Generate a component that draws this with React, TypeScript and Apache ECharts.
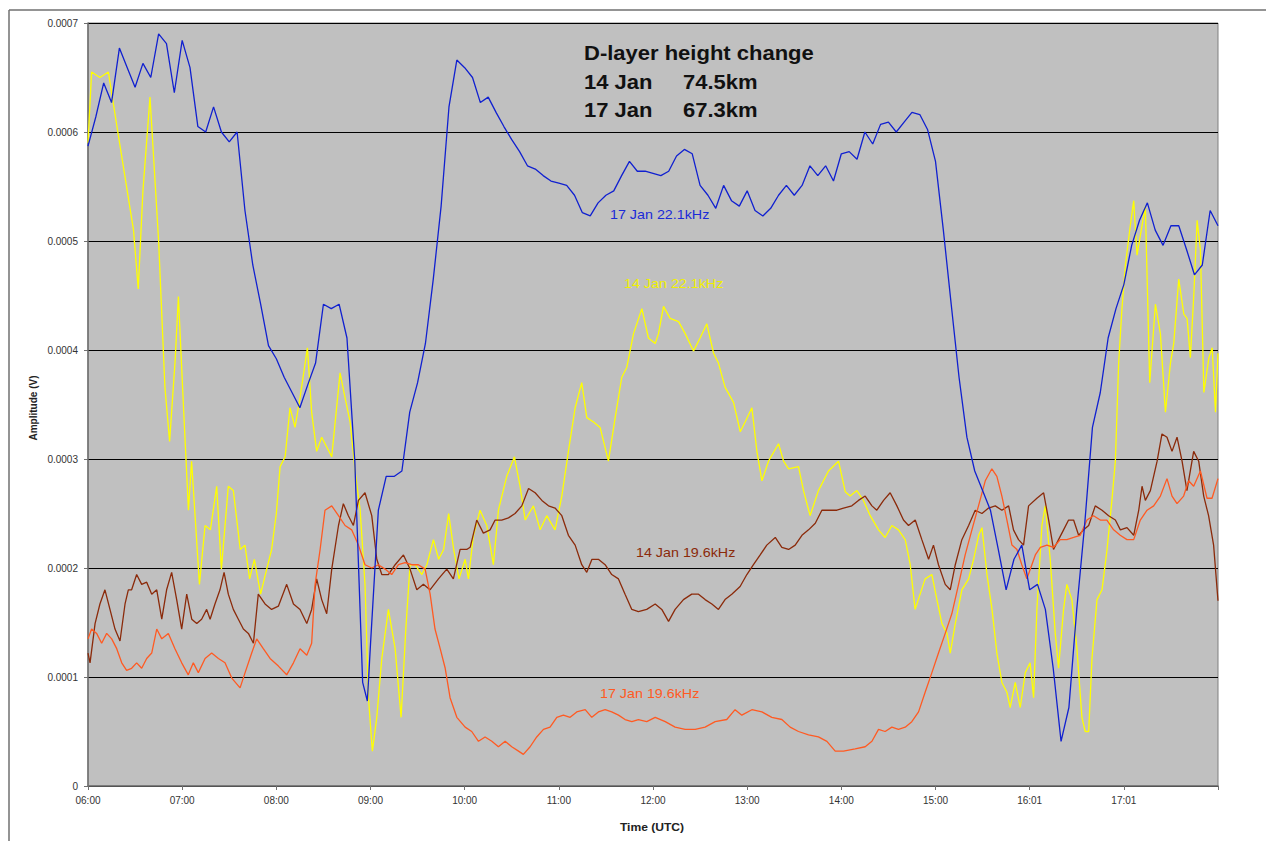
import React, { useEffect, useRef } from "react";
import * as echarts from "echarts";

// Amplitudes below are in units of 0.0001 V; time is minutes after 06:00 UTC.
const AMP_UNIT = 1e-4;

const timeTickLabels = ["06:00", "07:00", "08:00", "09:00", "10:00", "11:00", "12:00", "13:00", "14:00", "15:00", "16:01", "17:01", ""];

const seriesNames = ["14 Jan 22.1kHz", "17 Jan 22.1kHz", "14 Jan 19.6kHz", "17 Jan 19.6kHz"];

const blue17_22: [number, number][] = [
  [0, 5.87], [5, 6.14], [10, 6.45], [15, 6.27], [20, 6.77], [25, 6.59], [30, 6.41], [35, 6.63], [40, 6.5], [45, 6.9],
  [50, 6.81], [55, 6.36], [60, 6.84], [65, 6.59], [70, 6.05], [75, 6.0], [80, 6.23], [85, 6.0], [90, 5.91], [95, 6.0],
  [100, 5.28], [105, 4.78], [110, 4.42], [115, 4.04], [120, 3.92], [125, 3.75], [130, 3.61], [135, 3.47], [140, 3.68], [145, 3.88],
  [150, 4.42], [155, 4.38], [160, 4.42], [165, 4.11], [170, 2.98], [175, 0.95], [178, 0.78], [180, 1.3], [185, 2.53], [190, 2.84],
  [195, 2.84], [200, 2.89], [205, 3.43], [210, 3.7], [215, 4.06], [220, 4.65], [225, 5.32], [230, 6.23], [235, 6.66], [240, 6.59],
  [245, 6.5], [250, 6.27], [255, 6.32], [260, 6.18], [265, 6.05], [270, 5.93], [275, 5.82], [280, 5.69], [285, 5.66], [290, 5.6],
  [295, 5.55], [300, 5.53], [305, 5.51], [310, 5.42], [315, 5.26], [320, 5.23], [325, 5.35], [330, 5.42], [335, 5.46], [340, 5.6],
  [345, 5.73], [350, 5.64], [355, 5.64], [360, 5.62], [365, 5.6], [370, 5.64], [375, 5.78], [380, 5.84], [385, 5.8], [390, 5.51],
  [395, 5.42], [400, 5.3], [405, 5.51], [410, 5.37], [415, 5.32], [420, 5.46], [425, 5.28], [430, 5.23], [435, 5.3], [440, 5.42],
  [445, 5.51], [450, 5.42], [455, 5.51], [460, 5.69], [465, 5.6], [470, 5.69], [475, 5.55], [480, 5.8], [485, 5.82], [490, 5.75],
  [495, 6.0], [500, 5.89], [505, 6.07], [510, 6.09], [515, 6.0], [520, 6.09], [525, 6.18], [530, 6.16], [535, 6.02], [540, 5.73],
  [545, 5.1], [550, 4.42], [555, 3.75], [560, 3.2], [565, 2.89], [570, 2.71], [575, 2.53], [580, 2.17], [585, 1.8], [590, 2.08],
  [595, 2.21], [600, 1.8], [605, 1.85], [610, 1.62], [615, 1.08], [620, 0.41], [625, 0.72], [630, 1.62], [635, 2.39], [640, 3.29],
  [645, 3.61], [650, 4.11], [655, 4.38], [660, 4.6], [665, 4.96], [670, 5.19], [675, 5.35], [680, 5.1], [685, 4.96], [690, 5.14],
  [695, 5.14], [700, 4.92], [705, 4.69], [710, 4.78], [715, 5.28], [720, 5.14],
];

const yellow14_22: [number, number][] = [
  [0, 5.9], [2.3, 6.55], [7.6, 6.5], [13, 6.55], [19, 6.0], [29, 5.1], [32, 4.56], [35, 5.46], [39.5, 6.32], [45, 5.0],
  [49, 3.66], [52, 3.16], [55.5, 3.9], [57.6, 4.49], [61, 3.43], [64, 2.53], [66, 2.98], [68, 2.53], [71, 1.85], [74.6, 2.39],
  [78, 2.35], [82, 2.75], [85, 1.99], [89.4, 2.75], [92.6, 2.71], [97, 2.17], [100, 2.21], [103, 1.9], [106, 2.08], [110, 1.76],
  [113, 1.94], [117, 2.17], [120, 2.5], [122.4, 2.93], [125.6, 3.02], [128.7, 3.47], [131.9, 3.29], [135.1, 3.56], [139.8, 4.02], [142.5, 3.43],
  [145.7, 3.07], [148.9, 3.2], [152.1, 3.11], [155.3, 3.02], [160.6, 3.79], [163.8, 3.56], [167, 3.34], [170.2, 2.89], [173.4, 2.53], [176.5, 1.85],
  [178.7, 0.81], [181.2, 0.32], [184, 0.63], [187.2, 1.17], [191.4, 1.62], [195.7, 1.26], [199.5, 0.63], [202.5, 1.44], [205.2, 2.03], [208.4, 2.03],
  [212.7, 1.94], [215.9, 2.03], [220.1, 2.26], [223.4, 2.08], [226.6, 2.17], [229.8, 2.5], [233, 2.17], [236.4, 1.9], [240.3, 2.08], [242.4, 1.9],
  [245.6, 2.3], [249.8, 2.53], [254.1, 2.39], [258.3, 2.03], [261.5, 2.53], [266.8, 2.84], [271.7, 3.02], [275.3, 2.75], [278.6, 2.44], [283.8, 2.57],
  [288.1, 2.35], [292.3, 2.48], [297.6, 2.35], [301.9, 2.66], [306.1, 3.07], [310.4, 3.47], [314.6, 3.7], [317.8, 3.38], [322.1, 3.34], [326.3, 3.29],
  [331.6, 2.98], [335.9, 3.38], [340.1, 3.75], [343.3, 3.84], [347.6, 4.15], [352.9, 4.38], [357.1, 4.11], [361.4, 4.06], [363.5, 4.15], [366.7, 4.4],
  [370.9, 4.29], [376.3, 4.26], [380.5, 4.15], [385.8, 3.99], [390, 4.11], [394.3, 4.24], [398.6, 3.97], [401.7, 3.88], [405.9, 3.66], [411.3, 3.52],
  [415.6, 3.25], [418.7, 3.34], [423, 3.47], [426.2, 3.07], [429.4, 2.8], [433.6, 2.98], [440, 3.14], [443.2, 2.98], [446.4, 2.91], [452.7, 2.93],
  [455.9, 2.71], [460.1, 2.48], [465.4, 2.71], [471.8, 2.89], [478.2, 2.98], [482.5, 2.7], [485.6, 2.66], [489.9, 2.71], [494.1, 2.62], [498.4, 2.48],
  [503.7, 2.35], [507.9, 2.28], [512.2, 2.39], [516.4, 2.35], [520.7, 2.26], [523.9, 2.03], [527, 1.62], [530.2, 1.76], [533.4, 1.9], [537.7, 1.94],
  [540.9, 1.71], [544.1, 1.49], [547.3, 1.4], [549.4, 1.22], [552.6, 1.49], [556.8, 1.8], [561.1, 1.9], [564.3, 2.08], [567.5, 2.3], [569.6, 2.37],
  [572.8, 1.94], [576, 1.62], [579.1, 1.22], [582.3, 0.95], [585.5, 0.86], [587.6, 0.72], [590.8, 0.95], [594, 0.72], [597.2, 1.04], [600.3, 1.13],
  [602.5, 0.81], [604.6, 1.62], [607.8, 2.39], [609.9, 2.57], [613.1, 2.08], [616.3, 1.4], [618.4, 1.08], [621.6, 1.62], [623.7, 1.85], [626.9, 1.71],
  [630.1, 1.26], [633.3, 0.63], [635.4, 0.5], [637.6, 0.5], [639.7, 1.17], [642.9, 1.71], [646.1, 1.8], [649.3, 2.17], [652.4, 2.62], [654.6, 2.98],
  [656.7, 3.88], [658.8, 4.38], [661, 4.78], [664.1, 5.14], [666.3, 5.37], [668.4, 4.87], [670.5, 5.05], [673.7, 5.32], [676.5, 3.7], [680.1, 4.42],
  [683.3, 4.15], [686.5, 3.43], [689.7, 3.88], [691.8, 4.06], [695, 4.65], [698.2, 4.33], [700.3, 4.29], [702.4, 3.93], [704.6, 4.51], [706.7, 5.19],
  [708.8, 4.92], [711, 3.61], [714.2, 3.93], [716.3, 4.02], [718.4, 3.43], [720, 3.97],
];

const brown14_19: [number, number][] = [
  [0, 1.22], [1.3, 1.13], [4.5, 1.49], [7.6, 1.67], [10.8, 1.8], [14, 1.62], [17.2, 1.44], [20.4, 1.33], [23.6, 1.67], [25.7, 1.8],
  [27.8, 1.8], [31, 1.94], [34.2, 1.85], [37.4, 1.87], [40.6, 1.76], [43.8, 1.8], [47, 1.53], [50.1, 1.8], [53.3, 1.96], [56.5, 1.71],
  [59.7, 1.44], [62.9, 1.76], [66.1, 1.53], [69.3, 1.49], [72.4, 1.53], [75.6, 1.62], [77.8, 1.53], [80.9, 1.67], [84.1, 1.8], [86.7, 1.96],
  [89.4, 1.76], [92.6, 1.62], [95.8, 1.53], [99, 1.44], [102.2, 1.4], [105.4, 1.31], [108.5, 1.76], [112.8, 1.67], [117, 1.62], [121.3, 1.65],
  [126.6, 1.85], [130.9, 1.67], [135.1, 1.62], [139.4, 1.49], [142.5, 1.62], [145.7, 1.9], [148.9, 1.71], [152.1, 1.58], [155.3, 1.99], [159.6, 2.39],
  [162.7, 2.59], [165.9, 2.48], [169.1, 2.39], [172.3, 2.62], [176.5, 2.69], [180.8, 2.48], [184, 2.08], [187.2, 1.94], [191.4, 1.94], [195.7, 2.03],
  [201, 2.12], [205.2, 1.99], [209.5, 1.8], [213.7, 1.85], [217.9, 1.8], [223.3, 1.9], [228.6, 1.99], [232.8, 1.9], [237.1, 2.17], [241.3, 2.17],
  [243.5, 2.19], [247.7, 2.44], [251.9, 2.32], [256.2, 2.35], [259.4, 2.44], [263.6, 2.44], [267.9, 2.46], [272.1, 2.5], [276.4, 2.57], [280.7, 2.73],
  [284.9, 2.69], [289.2, 2.62], [293.4, 2.57], [297.6, 2.55], [301.9, 2.48], [306.1, 2.3], [310.4, 2.21], [314.6, 2.03], [317.8, 1.96], [321.1, 2.08],
  [325.2, 2.08], [329.5, 2.03], [333.7, 1.94], [338, 1.9], [342.2, 1.76], [346.5, 1.62], [350.7, 1.6], [356, 1.62], [361.4, 1.67], [365.6, 1.62],
  [369.9, 1.51], [374.1, 1.62], [379.4, 1.71], [384.7, 1.76], [389, 1.76], [393.2, 1.71], [397.5, 1.67], [401.7, 1.62], [405.9, 1.71], [410.2, 1.76],
  [415.5, 1.83], [419.8, 1.94], [424, 2.03], [428.3, 2.12], [432.5, 2.21], [437.9, 2.28], [442.1, 2.19], [446.4, 2.17], [450.6, 2.21], [454.9, 2.3],
  [459.1, 2.35], [463.4, 2.41], [467.6, 2.53], [471.9, 2.53], [477.2, 2.53], [481.4, 2.55], [486.7, 2.57], [490.9, 2.62], [495.2, 2.66], [499.5, 2.57],
  [502.6, 2.53], [506.9, 2.62], [511.1, 2.69], [515.4, 2.57], [519.6, 2.44], [522.8, 2.39], [527.1, 2.44], [531.3, 2.26], [535.6, 2.08], [538.7, 2.21],
  [541.9, 2.03], [546.2, 1.85], [549.4, 1.8], [552.6, 2.03], [556.8, 2.26], [561.1, 2.39], [565.3, 2.53], [569.6, 2.5], [573.8, 2.55], [578.1, 2.57],
  [582.3, 2.53], [586.6, 2.57], [589.7, 2.35], [592.9, 2.26], [596.1, 2.21], [599.3, 2.57], [604.6, 2.64], [608.9, 2.69], [612.1, 2.44], [615.2, 2.17],
  [618.4, 2.26], [621.6, 2.35], [624.8, 2.44], [628, 2.44], [631.2, 2.3], [634.4, 2.35], [637.6, 2.39], [641.8, 2.57], [646.1, 2.53], [650.3, 2.48],
  [654.6, 2.44], [657.8, 2.35], [662, 2.37], [666.3, 2.3], [669.5, 2.53], [671.6, 2.75], [673.7, 2.62], [676.9, 2.71], [681.2, 2.98], [684.3, 3.23],
  [687.5, 3.2], [690.7, 3.07], [693.9, 3.2], [697.1, 2.98], [700.2, 2.71], [704.5, 3.07], [707.7, 2.98], [710.9, 2.66], [714, 2.48], [717.2, 2.21],
  [720, 1.7],
];

const orange17_19: [number, number][] = [
  [0, 1.35], [2.3, 1.44], [5.5, 1.4], [8.7, 1.31], [11.9, 1.4], [15.1, 1.35], [18.3, 1.26], [21.5, 1.13], [24.6, 1.06], [27.8, 1.08],
  [31, 1.13], [34.2, 1.08], [37.4, 1.17], [40.6, 1.22], [43.8, 1.44], [47, 1.35], [51.2, 1.4], [55.4, 1.26], [59.7, 1.13], [63.9, 1.02],
  [67.1, 1.13], [70.3, 1.04], [74.6, 1.17], [78.8, 1.22], [83.1, 1.17], [87.3, 1.13], [91.6, 0.99], [96.9, 0.9], [100.1, 1.04], [104.3, 1.22],
  [107.5, 1.35], [111.7, 1.26], [116, 1.17], [121.3, 1.1], [126.6, 1.02], [130.9, 1.13], [135.1, 1.26], [139.4, 1.2], [142.5, 1.31], [144.7, 1.85],
  [147.9, 2.17], [151, 2.53], [155.3, 2.57], [159.6, 2.48], [163.8, 2.39], [168, 2.35], [172.3, 2.21], [176.5, 2.03], [180.8, 2.0], [185, 2.03],
  [189.3, 1.99], [193.5, 1.94], [197.8, 2.03], [202, 2.05], [206.3, 2.03], [210.5, 2.03], [214.8, 1.99], [218, 1.76], [221.1, 1.44], [224.4, 1.26],
  [227.6, 1.08], [230.7, 0.81], [235, 0.63], [240.3, 0.54], [244.5, 0.5], [248.8, 0.41], [253, 0.45], [257.3, 0.41], [261.5, 0.36], [265.8, 0.41],
  [270, 0.36], [274.3, 0.32], [277.4, 0.29], [281.7, 0.36], [285.9, 0.45], [290.2, 0.52], [294.4, 0.54], [298.7, 0.63], [302.9, 0.65], [307.2, 0.63],
  [311.4, 0.68], [316.8, 0.7], [321, 0.63], [325.2, 0.68], [329.5, 0.7], [333.7, 0.68], [338, 0.65], [342.2, 0.61], [346.5, 0.59], [350.7, 0.61],
  [356, 0.59], [361.4, 0.63], [367.8, 0.59], [374.1, 0.54], [380.5, 0.52], [386.9, 0.52], [393.2, 0.54], [399.6, 0.59], [407, 0.61], [412.3, 0.7],
  [416.6, 0.65], [423, 0.7], [429.4, 0.68], [435.7, 0.63], [442.1, 0.61], [447.4, 0.54], [452.7, 0.5], [459.1, 0.47], [465.4, 0.45], [470.8, 0.41],
  [476.1, 0.32], [481.4, 0.32], [488.8, 0.34], [495.2, 0.36], [499.5, 0.41], [503.7, 0.52], [507.9, 0.5], [512.2, 0.54], [516.4, 0.52], [520.7, 0.54],
  [524.9, 0.59], [529.2, 0.68], [533.4, 0.86], [537.7, 1.04], [541.9, 1.22], [546.2, 1.4], [550.4, 1.58], [554.7, 1.85], [558.9, 2.12], [563.2, 2.35],
  [567.4, 2.57], [571.7, 2.8], [575.9, 2.91], [579.1, 2.84], [582.3, 2.66], [585.5, 2.44], [588.7, 2.21], [591.9, 2.17], [595, 2.03], [598.2, 1.9],
  [601.4, 2.03], [603.6, 2.12], [606.8, 2.19], [611, 2.21], [615.2, 2.19], [619.5, 2.26], [623.7, 2.26], [628, 2.28], [632.2, 2.3], [636.5, 2.44],
  [640.7, 2.48], [645, 2.44], [649.2, 2.44], [653.5, 2.35], [657.7, 2.3], [662, 2.26], [666.3, 2.26], [670.5, 2.44], [674.8, 2.53], [679, 2.57],
  [683.3, 2.66], [687.5, 2.82], [690.7, 2.66], [693.9, 2.59], [698.1, 2.66], [701.3, 2.8], [704.5, 2.75], [708.8, 2.89], [713, 2.64], [716.2, 2.64],
  [720, 2.82],
];

const FONT = "Arial, 'Liberation Sans', sans-serif";

const toData = (arr: [number, number][]) => arr.map(([t, v]) => [t, v * AMP_UNIT]);

export default function App() {
  const ref = useRef<HTMLDivElement>(null);
  useEffect(() => {
    if (!ref.current) return;
    const chart = echarts.init(ref.current, null, { renderer: "svg" });
    const mkSeries = (name: string, data: [number, number][], color: string, z: number) => ({
      name,
      type: "line",
      data: toData(data),
      showSymbol: false,
      symbol: "none",
      smooth: false,
      lineStyle: { color, width: 1.3 },
      itemStyle: { color },
      z,
    });
    const titleText = (text: string, x: number, y: number) => ({
      type: "text",
      x,
      y,
      scaleX: 1.1,
      z: 100,
      style: { text, fill: "#111", font: `bold 20px ${FONT}`, textVerticalAlign: "middle" },
    });
    const seriesLabel = (text: string, x: number, y: number, fill: string) => ({
      type: "text",
      x,
      y,
      scaleX: 1.1,
      z: 100,
      style: { text, fill, font: `13px ${FONT}`, textVerticalAlign: "middle" },
    });
    chart.setOption({
      animation: false,
      backgroundColor: "#ffffff",
      grid: {
        left: 88,
        right: 48,
        top: 23,
        bottom: 55,
        show: true,
        backgroundColor: "#c0c0c0",
        borderColor: "#808080",
        borderWidth: 1,
      },
      xAxis: {
        type: "value",
        min: 0,
        max: 720,
        interval: 60,
        axisLine: { show: true, lineStyle: { color: "#707070", width: 1.5 } },
        axisTick: { show: true, length: 4, lineStyle: { color: "#707070" } },
        axisLabel: {
          color: "#333",
          fontSize: 10,
          fontFamily: FONT,
          margin: 9,
          formatter: (v: number) => timeTickLabels[Math.round(v / 60)] ?? "",
        },
        splitLine: { show: false },
      },
      yAxis: {
        type: "value",
        min: 0,
        max: 0.0007,
        interval: 0.0001,
        axisLine: { show: true, lineStyle: { color: "#707070", width: 1.5 } },
        axisTick: { show: true, length: 4, lineStyle: { color: "#707070" } },
        axisLabel: {
          color: "#333",
          fontSize: 10,
          fontFamily: FONT,
          margin: 10,
          formatter: (v: number) => (v === 0 ? "0" : v.toFixed(4)),
        },
        splitLine: { show: true, lineStyle: { color: "#000000", width: 1 } },
      },
      series: [
        mkSeries(seriesNames[0], yellow14_22, "#ffff00", 2),
        mkSeries(seriesNames[2], brown14_19, "#8b2a0a", 3),
        mkSeries(seriesNames[3], orange17_19, "#ff5a22", 4),
        mkSeries(seriesNames[1], blue17_22, "#1020d0", 5),
      ],
      graphic: [
        { type: "line", shape: { x1: 9, y1: 10, x2: 1266, y2: 10 }, style: { stroke: "#707070", lineWidth: 1.5 }, silent: true },
        { type: "line", shape: { x1: 9, y1: 10, x2: 9, y2: 841 }, style: { stroke: "#707070", lineWidth: 1.5 }, silent: true },
        titleText("D-layer height change", 584, 53),
        titleText("14 Jan", 584, 82),
        titleText("74.5km", 683, 82),
        titleText("17 Jan", 584, 110),
        titleText("67.3km", 683, 110),
        seriesLabel(seriesNames[1], 610, 215, "#1a2ad8"),
        seriesLabel(seriesNames[0], 624, 284, "#f0f000"),
        seriesLabel(seriesNames[2], 636, 553, "#8b2a0a"),
        seriesLabel(seriesNames[3], 600, 694, "#ff5a22"),
        {
          type: "text", x: 652, y: 827, scaleX: 1.1, z: 100,
          style: { text: "Time (UTC)", fill: "#222", font: `bold 11px ${FONT}`, textAlign: "center", textVerticalAlign: "middle" },
        },
        {
          type: "text", x: 33, y: 408, rotation: Math.PI / 2, z: 100,
          style: { text: "Amplitude (V)", fill: "#222", font: `bold 10px ${FONT}`, textAlign: "center", textVerticalAlign: "middle" },
        },
      ],
    });
    return () => chart.dispose();
  }, []);
  return (
    <div
      ref={ref}
      style={{ position: "fixed", left: 0, top: 0, width: 1266, height: 841, background: "#fff" }}
    />
  );
}
